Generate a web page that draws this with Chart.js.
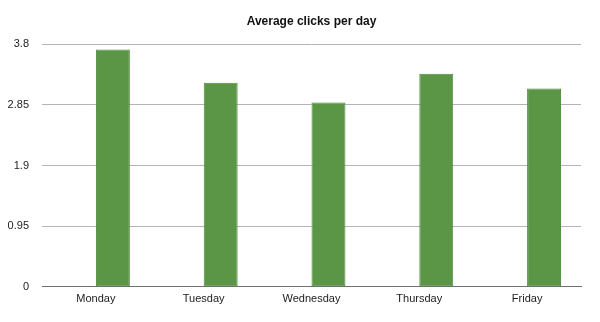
<!DOCTYPE html>
<html>
<head>
<meta charset="utf-8">
<script src="https://cdn.jsdelivr.net/npm/chart.js@4/dist/chart.umd.min.js"></script>
<style>
  html, body { margin: 0; padding: 0; background: #fff; }
  #wrap { width: 600px; height: 322px; }
</style>
</head>
<body>
<div id="wrap"><canvas id="clicks"></canvas></div>
<script>
// Days and average click counts
var days = ['Monday', 'Tuesday', 'Wednesday', 'Thursday', 'Friday'];
var avgClicks = [3.72, 3.20, 2.89, 3.34, 3.11];
// Empty companion series: keeps the bar on the right half of each slot
var spacer = [null, null, null, null, null];
var yTicks = [0, 0.95, 1.9, 2.85, 3.8];
var yTickLabels = ['0', '0.95', '1.9', '2.85', '3.8'];

var ctx = document.getElementById('clicks').getContext('2d');
new Chart(ctx, {
    type: 'bar',
    data: {
        labels: days,
        datasets: [{
            label: '',
            data: spacer
        }, {
            label: 'Average clicks',
            data: avgClicks,
            backgroundColor: '#5b9646',
            borderColor: '#4f8a3d',
            borderWidth: 1,
            borderSkipped: false
        }]
    },
    options: {
        responsive: true,
        maintainAspectRatio: false,
        animation: false,
        categoryPercentage: 0.63,
        barPercentage: 1.0,
        layout: {
            padding: { left: 0, right: 19, top: 14, bottom: 10 }
        },
        plugins: {
            legend: { display: false },
            tooltip: { enabled: false },
            title: {
                display: true,
                text: 'Average clicks per day',
                fullSize: false,
                color: '#111',
                font: { family: 'Liberation Sans', size: 12, weight: 'bold' },
                padding: { top: 0, bottom: 16 }
            }
        },
        scales: {
            x: {
                grid: { display: false, drawTicks: false },
                border: { display: true, color: '#707070', width: 1 },
                ticks: {
                    color: '#222',
                    padding: 6,
                    maxRotation: 0,
                    font: { family: 'Liberation Sans', size: 11 }
                }
            },
            y: {
                min: 0,
                max: 3.8,
                afterBuildTicks: function(axis) {
                    axis.ticks = yTicks.map(function(v) { return { value: v }; });
                },
                afterFit: function(axis) {
                    axis.width = 42;
                },
                grid: {
                    color: function(c) { return c.tick.value === 0 ? '#707070' : '#b4b4b4'; },
                    drawTicks: false
                },
                border: { display: false },
                ticks: {
                    color: '#222',
                    padding: 13,
                    font: { family: 'Liberation Sans', size: 11 },
                    callback: function(value, index) { return yTickLabels[index]; }
                }
            }
        }
    }
});
</script>
</body>
</html>
